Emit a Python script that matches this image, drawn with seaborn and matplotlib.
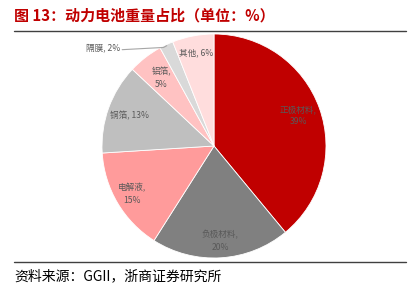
import matplotlib
matplotlib.use("Agg")
import matplotlib.pyplot as plt
import seaborn as sns
import numpy as np
from matplotlib.lines import Line2D

sns.set_theme(style="white")
plt.rcParams['font.family'] = ['Noto Sans CJK SC', 'DejaVu Sans']

categories = ["正极材料", "负极材料", "电解液", "铜箔", "铝箔", "隔膜", "其他"]
values = [39, 20, 15, 13, 5, 2, 6]
label_texts = ["正极材料,\n39%", "负极材料,\n20%", "电解液,\n15%", "铜箔, 13%", "铝箔,\n5%", "隔膜, 2%", "其他, 6%"]
colors = ["#C00000", "#808080", "#FF9B9B", "#BFBFBF", "#FFC2C2", "#D9D9D9", "#FFDDDD"]
label_r = [0.80, 0.85, 0.85, 0.80, 0.77, None, 0.85]
title = "图 13：动力电池重量占比（单位：%）"
source = "资料来源：GGII，浙商证券研究所"

W, H = 419, 298
fig = plt.figure(figsize=(W / 100, H / 100), dpi=100)
cx, cy, R = 214, 146, 112
ax = fig.add_axes([(cx - R) / W, 1 - (cy + R) / H, 2 * R / W, 2 * R / H])
wedges, _ = ax.pie(values, colors=colors, startangle=90, counterclock=False,
                   radius=1, wedgeprops=dict(edgecolor="white", linewidth=0.6))
ax.set_xlim(-1, 1)
ax.set_ylim(-1, 1)
ax.set_aspect("auto")
ax.axis("off")

total = sum(values)
cum = 0
for i, v in enumerate(values):
    mid = 90 - 360 * (cum + v / 2) / total
    cum += v
    a = np.deg2rad(mid)
    if label_r[i] is None:
        x0, y0 = 0.99 * np.cos(a), 0.99 * np.sin(a)
        ax.plot([-0.82, -0.45, x0], [0.86, 0.88, y0], color="#A6A6A6", lw=0.8, clip_on=False)
        ax.text(-0.84, 0.875, label_texts[i], ha="right", va="center", fontsize=6.2, color="#595959")
        continue
    r = label_r[i]
    ax.text(r * np.cos(a), r * np.sin(a), label_texts[i], ha="center", va="center",
            fontsize=6.2, color="#595959", linespacing=1.5)

fig.text(14 / W, 1 - 15 / H, title, ha="left", va="center", fontsize=10.8, fontweight="bold", color="#C00000")
fig.add_artist(Line2D([14 / W, 406 / W], [1 - 31 / H, 1 - 31 / H], color="#404040", lw=1.0))
fig.add_artist(Line2D([14 / W, 406 / W], [1 - 262 / H, 1 - 262 / H], color="#404040", lw=1.0))
fig.text(14 / W, 1 - 276 / H, source, ha="left", va="center", fontsize=10, color="#000000")

fig.savefig("out.png", dpi=100)
